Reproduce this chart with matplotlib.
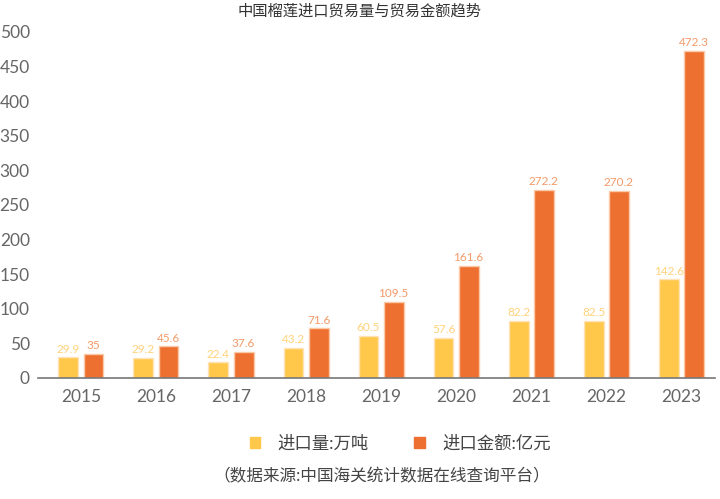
import matplotlib
matplotlib.use("Agg")
import numpy as np
import matplotlib.pyplot as plt
from matplotlib.patches import Patch

plt.rcParams["font.family"] = ["Lato", "Noto Sans CJK SC", "DejaVu Sans"]

years = ["2015", "2016", "2017", "2018", "2019", "2020", "2021", "2022", "2023"]
volume = [29.9, 29.2, 22.4, 43.2, 60.5, 57.6, 82.2, 82.5, 142.6]
value = [35, 45.6, 37.6, 71.6, 109.5, 161.6, 272.2, 270.2, 472.3]

yellow = "#FFC84B"
orange = "#EE7030"

fig = plt.figure(figsize=(7.2, 4.99), dpi=100)
ax = fig.add_axes([0.053, 0.2425, 0.94, 0.6935])

x = np.arange(len(years))
w = 0.265
gap = 0.035
b1 = ax.bar(x - w / 2 - gap, volume, w, color=yellow, edgecolor="#FFE3B8", linewidth=1)
b2 = ax.bar(x + w / 2 + gap, value, w, color=orange, edgecolor="#FAC9A8", linewidth=1)

for rect, v in zip(b1, volume):
    ax.text(rect.get_x() + rect.get_width() / 2, v + 4, f"{v:g}",
            ha="center", va="bottom", fontsize=8.5, color="#FFD27A")
for rect, v in zip(b2, value):
    ax.text(rect.get_x() + rect.get_width() / 2, v + 4, f"{v:g}",
            ha="center", va="bottom", fontsize=8.5, color="#F39A68")

ax.set_ylim(0, 500)
ax.set_xlim(-0.57, 8.45)
ax.set_yticks(range(0, 501, 50))
ax.set_xticks(x)
ax.set_xticklabels(years)
ax.tick_params(axis="both", length=0, labelsize=12.5, colors="#666666")
ax.tick_params(axis="y", pad=6)
ax.tick_params(axis="x", pad=8)
for s in ["top", "right", "left"]:
    ax.spines[s].set_visible(False)
ax.spines["bottom"].set_color("#777777")
ax.spines["bottom"].set_linewidth(1.2)

fig.text(0.5, 0.978, "中国榴莲进口贸易量与贸易金额趋势", ha="center", va="center",
         fontsize=11, color="#333333")

handles = [Patch(color=yellow), Patch(color=orange)]
fig.legend(handles, ["进口量:万吨", "进口金额:亿元"], loc="center",
           bbox_to_anchor=(0.556, 0.112), ncol=2, frameon=False, fontsize=12.5,
           handlelength=0.6, handleheight=0.6, handletextpad=1.0,
           columnspacing=2.6, labelcolor="#444444")

fig.text(0.53, 0.045, "（数据来源:中国海关统计数据在线查询平台）", ha="center", va="center",
         fontsize=12, color="#444444")

fig.savefig("out.png", dpi=100)
